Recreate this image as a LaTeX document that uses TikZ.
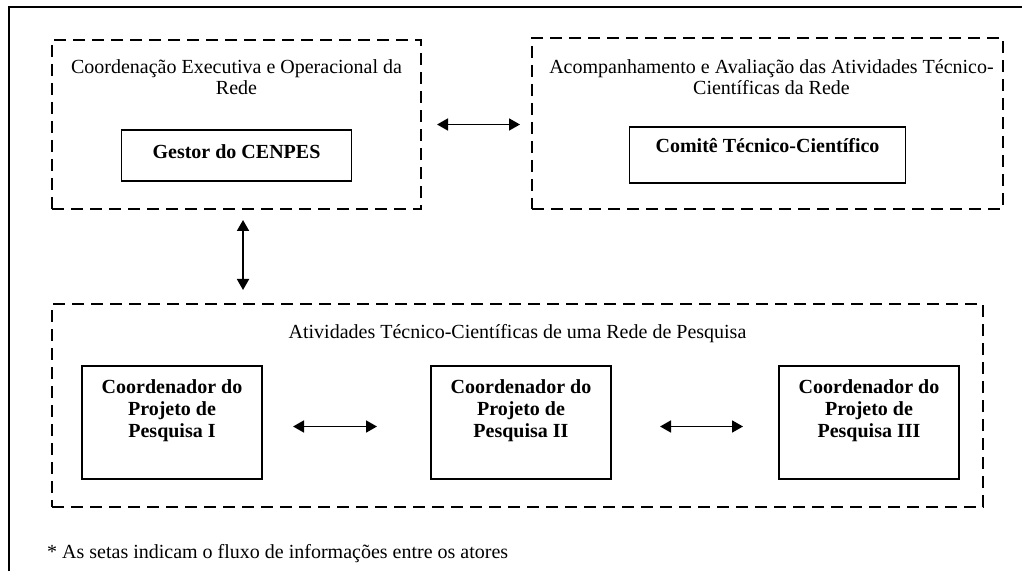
\documentclass[tikz,border=0pt]{standalone}
\usepackage{fontspec}
\setmainfont{Liberation Serif}
\usetikzlibrary{arrows.meta}
\usetikzlibrary{positioning}
\tikzset{>={Triangle[length=11pt,width=12pt]}, x=1pt, y=1pt, font=\fontsize{20}{21.5}\selectfont}
\tikzstyle{group} = [draw, rectangle, dash pattern=on 12pt off 7pt, line width=1.6pt, inner sep=0pt, outer sep=0pt]
\tikzstyle{block} = [draw, rectangle, line width=1.4pt, inner sep=0pt, outer sep=0pt, font=\fontsize{20}{22}\selectfont\bfseries]
\tikzstyle{proj} = [block, minimum width=180pt, minimum height=113pt]
\tikzstyle{title} = [align=center, inner sep=0pt]
\tikzstyle{projtext} = [align=center, inner sep=0pt, font=\fontsize{20}{22}\selectfont\bfseries]
\tikzstyle{link} = [<->, line width=1.8pt]

\begin{document}
\begin{tikzpicture}
    \useasboundingbox (0,0) rectangle (1022,571);
    \draw [line width=1.3pt] (9,0) -- (9,564) -- (1022,564);

    \node [group, minimum width=369pt, minimum height=169pt] (exec_grp) at (236.5,446.5) {};
    \node [title, below=19pt of exec_grp.north] (exec_txt) {Coordenação Executiva e Operacional da\\Rede};
    \node [block, below=90pt of exec_grp.north, minimum width=230pt, text height=29pt, text depth=22pt] (gestor) {Gestor do CENPES};

    \node [group, minimum width=471pt, minimum height=171pt] (tec_grp) at (767.5,447.5) {};
    \node [title, below=21pt of tec_grp.north, xshift=4pt] (tec_txt) {Acompanhamento e Avaliação das Atividades Técnico-\\Científicas da Rede};
    \node [block, below=89pt of tec_grp.north, minimum width=276pt, text height=26pt, text depth=30pt] (comite) {Comitê Técnico-Científico};

    \node [group, minimum width=931pt, minimum height=203pt] (net_grp) at (517.5,165.5) {};
    \node [title, below=20pt of net_grp.north] (net_txt) {Atividades Técnico-Científicas de uma Rede de Pesquisa};
    \node [proj, below right=62pt and 30pt of net_grp.north west] (proj_i) {};
    \node [proj, right=169pt of proj_i] (proj_ii) {};
    \node [proj, right=168pt of proj_ii] (proj_iii) {};
    \node [projtext, below=13pt of proj_i.north] (coord_i) {Coordenador do\\Projeto de\\Pesquisa I};
    \node [projtext, below=13pt of proj_ii.north] (coord_ii) {Coordenador do\\Projeto de\\Pesquisa II};
    \node [projtext, below=13pt of proj_iii.north] (coord_iii) {Coordenador do\\Projeto de\\Pesquisa III};

    \node [anchor=base west, inner sep=0pt] (nota) at (47,13) {* As setas indicam o fluxo de informações entre os atores};

    \draw [link] ([xshift=16pt]exec_grp.east) -- ([xshift=-12pt]exec_grp.east -| tec_grp.west);
    \draw [link] ([xshift=6.5pt,yshift=-11pt]exec_grp.south) -- ([xshift=6.5pt,yshift=14pt]exec_grp.south |- net_grp.north);
    \draw [link] ([xshift=31pt,yshift=-4pt]proj_i.east) -- ([xshift=-54pt,yshift=-4pt]proj_ii.west);
    \draw [link] ([xshift=49pt,yshift=-4pt]proj_ii.east) -- ([xshift=-36pt,yshift=-4pt]proj_iii.west);
\end{tikzpicture}
\end{document}
